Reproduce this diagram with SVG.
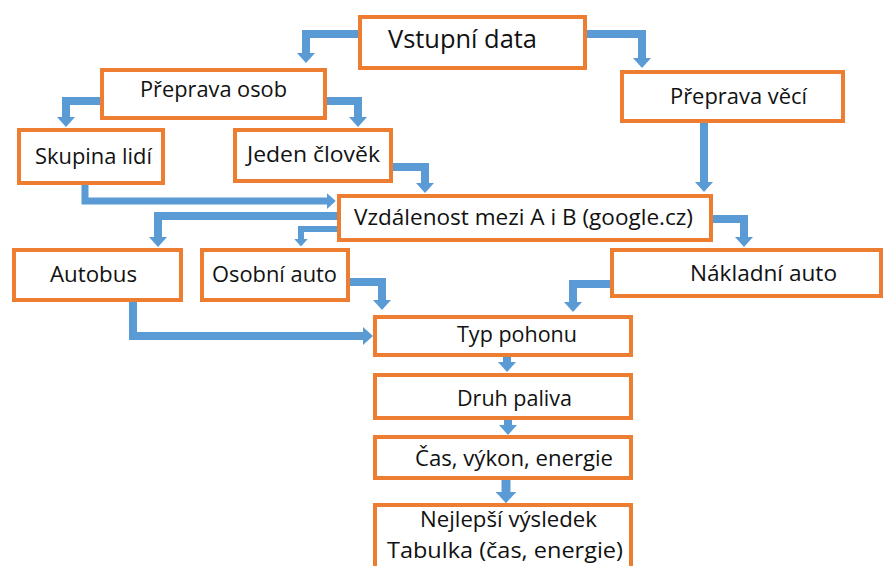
<svg xmlns="http://www.w3.org/2000/svg" width="884" height="566" viewBox="0 0 884 566">
<style>
.box{fill:#fff;stroke:#ED7D31;stroke-width:4}
.t{font-family:"Open Sans","Noto Sans",sans-serif;font-size:22px;fill:#111}
.c{fill:none;stroke:#5B9BD5;stroke-width:8;marker-end:url(#ah)}
</style>
<defs>
<marker id="ah" viewBox="0 0 10 18" refX="0" refY="9" markerWidth="1.25" markerHeight="2.25" orient="auto" markerUnits="strokeWidth">
<path d="M0,0 L10,9 L0,18 z" fill="#5B9BD5"/>
</marker>
</defs>
<rect width="884" height="566" fill="#fff"/>
<g id="connectors">
<path class="c" d="M358,34 H306 V53"/>
<path class="c" d="M587,34 H642 V58"/>
<path class="c" d="M100,101 H66 V117"/>
<path class="c" d="M327,101 H358 V117"/>
<path class="c" d="M704,123 V182"/>
<path class="c" style="stroke-width:7" d="M85,185 V201 H327"/>
<path class="c" d="M393,167 H425 V183"/>
<path class="c" d="M337,216 H158 V237"/>
<path class="c" style="stroke-width:6" d="M337,229 H301 V239"/>
<path class="c" d="M713,219 H744 V237"/>
<path class="c" d="M350,282 H382 V300"/>
<path class="c" d="M610,284 H573 V302"/>
<path class="c" d="M133,302 V336 H363"/>
<path class="c" d="M507,357 V362"/>
<path class="c" d="M508,420 V425"/>
<path class="c" style="stroke-width:9" d="M506,480 V492"/>
</g>
<g id="vstupni"><rect class="box" x="360" y="17" width="225" height="51"/><text class="t" x="388" y="48" style="font-size:26px" textLength="149" lengthAdjust="spacingAndGlyphs">Vstupní data</text></g>
<g id="preprava-osob"><rect class="box" x="102" y="70" width="223" height="48"/><text class="t" x="140" y="97" textLength="147" lengthAdjust="spacingAndGlyphs">Přeprava osob</text></g>
<g id="preprava-veci"><rect class="box" x="622" y="72" width="221" height="49"/><text class="t" x="670" y="104" textLength="137" lengthAdjust="spacingAndGlyphs">Přeprava věcí</text></g>
<g id="skupina"><rect class="box" x="19" y="130" width="144" height="53"/><text class="t" x="35" y="164" textLength="117" lengthAdjust="spacingAndGlyphs">Skupina lidí</text></g>
<g id="jeden"><rect class="box" x="235" y="130" width="156" height="51"/><text class="t" x="247" y="162" textLength="133" lengthAdjust="spacingAndGlyphs">Jeden člověk</text></g>
<g id="vzdalenost"><rect class="box" x="339" y="196" width="372" height="44"/><text class="t" x="354" y="225" textLength="339" lengthAdjust="spacingAndGlyphs">Vzdálenost mezi A i B (google.cz)</text></g>
<g id="autobus"><rect class="box" x="14" y="250" width="167" height="50"/><text class="t" x="50" y="282" textLength="87" lengthAdjust="spacingAndGlyphs">Autobus</text></g>
<g id="osobni"><rect class="box" x="202" y="250" width="146" height="50"/><text class="t" x="212" y="282" textLength="125" lengthAdjust="spacingAndGlyphs">Osobní auto</text></g>
<g id="nakladni"><rect class="box" x="612" y="250" width="269" height="46"/><text class="t" x="690" y="281" textLength="147" lengthAdjust="spacingAndGlyphs">Nákladní auto</text></g>
<g id="typ"><rect class="box" x="375" y="317" width="256" height="38"/><text class="t" x="457" y="342" textLength="120" lengthAdjust="spacingAndGlyphs">Typ pohonu</text></g>
<g id="druh"><rect class="box" x="375" y="375" width="256" height="43"/><text class="t" x="457" y="406" textLength="115" lengthAdjust="spacingAndGlyphs">Druh paliva</text></g>
<g id="cas"><rect class="box" x="375" y="437" width="256" height="41"/><text class="t" x="415" y="466" textLength="198" lengthAdjust="spacingAndGlyphs">Čas, výkon, energie</text></g>
<g id="nejlepsi"><rect class="box" x="375" y="505" width="256" height="80"/><text class="t" x="420" y="527" textLength="177" lengthAdjust="spacingAndGlyphs">Nejlepší výsledek</text><text class="t" x="387" y="558" textLength="236" lengthAdjust="spacingAndGlyphs">Tabulka (čas, energie)</text></g>
</svg>
